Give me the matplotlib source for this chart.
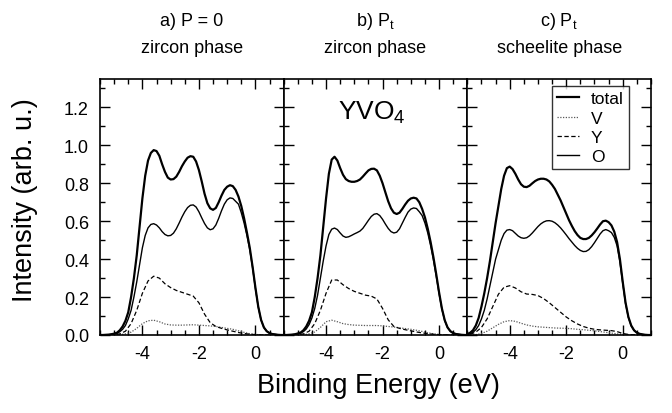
import numpy as np
import matplotlib
matplotlib.use("Agg")
import matplotlib.pyplot as plt

plt.rcParams['font.family'] = ['Liberation Sans', 'DejaVu Sans']
plt.rcParams['axes.unicode_minus'] = False

# energy grids (eV) the curves were read on
e_fine = np.round(np.arange(-5.5, 1.001, 0.1), 1)     # total, O
e_coarse = np.round(np.arange(-5.4, 1.001, 0.2), 1)   # V, Y

# a) P = 0, zircon
tot_a = [0, 0, 0.001, 0.002, 0.004, 0.007, 0.012, 0.025, 0.045, 0.075,
         0.12, 0.20, 0.30, 0.42, 0.57, 0.72, 0.84, 0.92, 0.96, 0.975,
         0.97, 0.945, 0.90, 0.86, 0.83, 0.82, 0.822, 0.835, 0.86, 0.89,
         0.915, 0.935, 0.943, 0.94, 0.915, 0.87, 0.81, 0.745, 0.695, 0.668,
         0.66, 0.67, 0.70, 0.735, 0.765, 0.782, 0.79, 0.785, 0.765, 0.73,
         0.68, 0.615, 0.54, 0.46, 0.36, 0.25, 0.15, 0.08, 0.04, 0.02,
         0.01, 0.005, 0.003, 0.001, 0, 0]
o_a = [0, 0, 0, 0.001, 0.003, 0.005, 0.009, 0.017, 0.03, 0.05,
       0.085, 0.13, 0.2, 0.28, 0.37, 0.46, 0.525, 0.565, 0.583, 0.587,
       0.58, 0.565, 0.545, 0.53, 0.523, 0.525, 0.537, 0.56, 0.59, 0.622,
       0.65, 0.672, 0.684, 0.686, 0.675, 0.65, 0.618, 0.588, 0.565, 0.555,
       0.56, 0.58, 0.615, 0.655, 0.69, 0.713, 0.723, 0.72, 0.705, 0.69,
       0.645, 0.59, 0.525, 0.45, 0.355, 0.245, 0.148, 0.079, 0.04, 0.02,
       0.01, 0.005, 0.003, 0.001, 0, 0]
y_a = [0, 0.001, 0.002, 0.006, 0.02, 0.06, 0.13, 0.22, 0.285, 0.31, 0.30, 0.27, 0.25,
       0.235, 0.225, 0.215, 0.205, 0.17, 0.11, 0.065, 0.045, 0.035, 0.027, 0.02, 0.013,
       0.008, 0.004, 0.002, 0, 0, 0, 0, 0]
v_a = [0, 0, 0.001, 0.002, 0.006, 0.015, 0.035, 0.06, 0.075, 0.078, 0.07, 0.058, 0.053,
       0.052, 0.052, 0.053, 0.054, 0.052, 0.05, 0.048, 0.045, 0.04, 0.035, 0.03, 0.022,
       0.014, 0.007, 0.003, 0.001, 0, 0, 0, 0]

# b) Pt, zircon
tot_b = [0, 0, 0.001, 0.002, 0.004, 0.008, 0.013, 0.025, 0.045, 0.075,
         0.12, 0.2, 0.3, 0.42, 0.57, 0.72, 0.85, 0.925, 0.94, 0.92,
         0.88, 0.845, 0.822, 0.812, 0.808, 0.808, 0.812, 0.82, 0.835, 0.852,
         0.868, 0.876, 0.877, 0.868, 0.84, 0.80, 0.752, 0.705, 0.668, 0.645,
         0.638, 0.645, 0.665, 0.688, 0.708, 0.72, 0.724, 0.72, 0.70, 0.665,
         0.62, 0.56, 0.49, 0.41, 0.32, 0.225, 0.14, 0.078, 0.04, 0.02,
         0.01, 0.005, 0.003, 0.001, 0, 0]
o_b = [0, 0, 0.001, 0.002, 0.003, 0.006, 0.01, 0.018, 0.032, 0.055,
       0.09, 0.14, 0.21, 0.3, 0.39, 0.47, 0.53, 0.558, 0.564, 0.556,
       0.538, 0.522, 0.515, 0.518, 0.525, 0.533, 0.54, 0.548, 0.562, 0.583,
       0.605, 0.625, 0.637, 0.64, 0.63, 0.61, 0.585, 0.562, 0.545, 0.538,
       0.542, 0.56, 0.59, 0.62, 0.648, 0.664, 0.67, 0.667, 0.65, 0.63,
       0.59, 0.538, 0.472, 0.396, 0.31, 0.218, 0.136, 0.076, 0.039, 0.02,
       0.01, 0.005, 0.003, 0.001, 0, 0]
y_b = [0, 0.001, 0.002, 0.006, 0.02, 0.06, 0.13, 0.22, 0.29, 0.29, 0.265, 0.245, 0.23,
       0.22, 0.21, 0.205, 0.19, 0.14, 0.08, 0.045, 0.035, 0.028, 0.022, 0.016, 0.011,
       0.007, 0.004, 0.002, 0, 0, 0, 0, 0]
v_b = [0, 0, 0.001, 0.002, 0.006, 0.016, 0.04, 0.07, 0.078, 0.07, 0.06, 0.055, 0.052,
       0.051, 0.05, 0.05, 0.05, 0.048, 0.045, 0.042, 0.038, 0.034, 0.03, 0.025, 0.019,
       0.012, 0.006, 0.003, 0.001, 0, 0, 0, 0]

# c) Pt, scheelite
tot_c = [0.005, 0.012, 0.025, 0.05, 0.09, 0.15, 0.22, 0.3, 0.39, 0.49,
         0.59, 0.68, 0.77, 0.84, 0.88, 0.888, 0.875, 0.85, 0.82, 0.795,
         0.782, 0.78, 0.787, 0.8, 0.812, 0.82, 0.824, 0.824, 0.82, 0.81,
         0.792, 0.77, 0.74, 0.71, 0.675, 0.64, 0.605, 0.575, 0.548, 0.527,
         0.512, 0.506, 0.506, 0.512, 0.525, 0.542, 0.562, 0.583, 0.6, 0.603,
         0.595, 0.578, 0.545, 0.49, 0.40, 0.28, 0.17, 0.095, 0.05, 0.025,
         0.012, 0.006, 0.003, 0.001, 0, 0]
o_c = [0.003, 0.007, 0.014, 0.028, 0.05, 0.085, 0.13, 0.19, 0.26, 0.33,
       0.4, 0.45, 0.5, 0.535, 0.553, 0.556, 0.55, 0.536, 0.522, 0.513,
       0.51, 0.513, 0.523, 0.538, 0.555, 0.572, 0.586, 0.596, 0.602, 0.603,
       0.6, 0.592, 0.58, 0.565, 0.547, 0.528, 0.508, 0.49, 0.472, 0.457,
       0.446, 0.44, 0.441, 0.45, 0.466, 0.487, 0.51, 0.533, 0.55, 0.556,
       0.55, 0.54, 0.515, 0.47, 0.385, 0.272, 0.165, 0.092, 0.048, 0.024,
       0.012, 0.006, 0.003, 0.001, 0, 0]
y_c = [0.004, 0.015, 0.04, 0.085, 0.15, 0.215, 0.252, 0.26, 0.248, 0.228, 0.216, 0.214,
       0.208, 0.192, 0.17, 0.145, 0.12, 0.095, 0.075, 0.058, 0.045, 0.036, 0.03, 0.027,
       0.025, 0.023, 0.018, 0.008, 0.003, 0.001, 0, 0, 0]
v_c = [0, 0.002, 0.008, 0.02, 0.038, 0.056, 0.07, 0.076, 0.072, 0.062, 0.053, 0.047,
       0.043, 0.041, 0.039, 0.037, 0.036, 0.035, 0.033, 0.03, 0.028, 0.025, 0.022, 0.018,
       0.014, 0.01, 0.006, 0.003, 0.001, 0, 0, 0, 0]

titles_1 = ["a) P = 0", "b) P$_\\mathregular{t}$", "c) P$_\\mathregular{t}$"]
titles_2 = ["zircon phase", "zircon phase", "scheelite phase"]
panels = [(tot_a, v_a, y_a, o_a), (tot_b, v_b, y_b, o_b), (tot_c, v_c, y_c, o_c)]

fig = plt.figure(figsize=(6.72, 4.14), dpi=100)
left, right, bottom, top = 100 / 672, 651 / 672, 1 - 336 / 414, 1 - 80 / 414
w = (right - left) / 3
axes = [fig.add_axes([left + i * w, bottom, w, top - bottom]) for i in range(3)]

for i, ax in enumerate(axes):
    tot, v, yy, o = panels[i]
    ax.plot(e_fine, tot, color='black', lw=1.6, label='total')
    ax.plot(e_coarse, v, color='0.35', lw=0.9, ls=(0, (1, 1.2)), label='V')
    ax.plot(e_coarse, yy, color='black', lw=0.9, ls=(0, (3.5, 2)), label='Y')
    ax.plot(e_fine, o, color='black', lw=1.0, label='O')
    ax.set_xlim(-5.5, 1.0)
    ax.set_ylim(0, 1.35)
    ax.set_xticks([-4, -2, 0])
    ax.set_xticks(np.arange(-5.5, 1.01, 0.5), minor=True)
    ax.set_yticks(np.arange(0, 1.31, 0.2))
    ax.set_yticks(np.arange(0, 1.31, 0.1), minor=True)
    ax.tick_params(which='both', direction='in', top=True, right=True, width=1.0)
    ax.tick_params(which='major', length=7, labelsize=13, pad=7.5)
    ax.tick_params(which='minor', length=3.5)
    ax.tick_params(axis='y', pad=8)
    for s in ax.spines.values():
        s.set_linewidth(1.2)
    if i > 0:
        ax.tick_params(axis='y', labelleft=False)
    else:
        ax.set_yticklabels(['0.0', '0.2', '0.4', '0.6', '0.8', '1.0', '1.2'])
    ax.text(0.5, 1.212, titles_1[i], transform=ax.transAxes, ha='center', va='baseline',
            fontsize=13)
    ax.text(0.5, 1.105, titles_2[i], transform=ax.transAxes, ha='center', va='baseline',
            fontsize=13)

axes[1].text(0.294, 0.844, "YVO$_\\mathregular{4}$", transform=axes[1].transAxes,
             ha='left', va='baseline', fontsize=19)

leg = axes[2].legend(loc='upper right', fontsize=12.5, frameon=True, fancybox=False,
                     handlelength=1.25, handletextpad=0.7, labelspacing=0.24,
                     borderpad=0.3, borderaxespad=0, bbox_to_anchor=(0.880, 0.973))
leg.get_frame().set_edgecolor('black')
leg.get_frame().set_linewidth(1.0)

fig.text(25 / 672, 1 - 200 / 414, "Intensity (arb. u.)", rotation=90, ha='center',
         va='center', fontsize=19.5)
fig.text(378 / 672, 1 - 386 / 414, "Binding Energy (eV)", ha='center',
         va='center', fontsize=19.5)

fig.savefig("out.png", dpi=100)
